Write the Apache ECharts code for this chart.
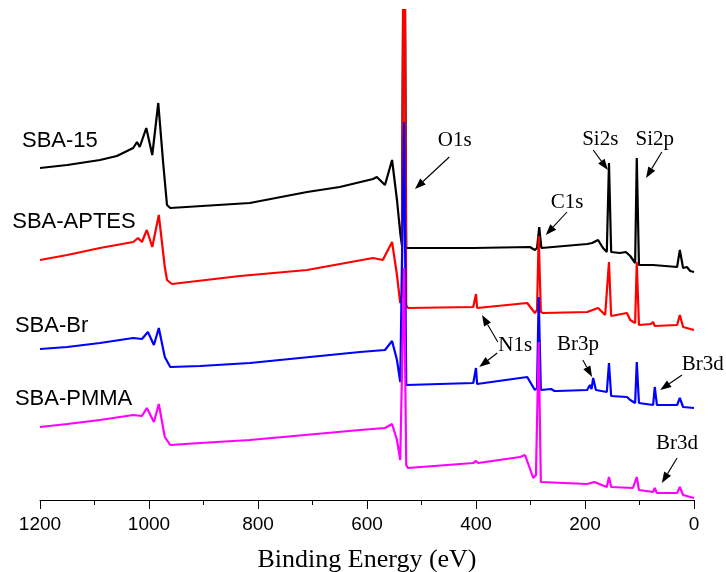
<!DOCTYPE html>
<html>
<head>
<meta charset="utf-8">
<script src="https://cdn.jsdelivr.net/npm/echarts@6/dist/echarts.min.js"></script>
<style>html,body{margin:0;padding:0;background:#fff}#c{width:726px;height:572px}</style>
</head>
<body>
<div id="c"></div>
<script>
// Binding energy axis ticks (eV)
const xTicks = [0, 200, 400, 600, 800, 1000, 1200];
const xTitle = 'Binding Energy (eV)';

// Spectra: [binding energy (eV), intensity (a.u., offset-stacked)]
const sba15 = [
  [1200,332],[1150,335],[1090,340],[1059,344],[1029,352],[1022,358],[1017,353],[1005,372],[994,345],
  [983,397],[974,337],[967,295],[961,292],[815,297],[710,308],[650,313],[589,321],[582,323],[567,315],
  [554,340],[545,300],[539,267],[536,255],[532,700],[528,252],[525,251],[405,252],[301,253],[292,250],
  [288,252],[284,273],[280,252],[277,252],[196,256],[187,257],[176,260],[167,252],[160,248],[156,337],
  [152,248],[149,248],[136,247],[125,248],[117,244],[108,237],[105,342],[101,235],[99,235],[75,235],
  [31,233],[26,250],[20,232],[13,233],[7,229],[0,228]
];
const sbaAptes = [
  [1200,240],[1150,245],[1090,252],[1029,258],[1020,262],[1013,258],[1004,270],[994,253],[982,285],
  [971,233],[967,220],[958,216],[833,224],[710,230],[589,242],[571,240],[554,258],[545,225],[539,197],
  [536,205],[532,700],[528,195],[525,192],[405,193],[402,193],[400,206],[398,192],[396,192],[306,197],
  [292,187],[288,190],[285,264],[281,188],[277,187],[196,188],[176,192],[163,185],[160,185],[156,238],
  [152,184],[149,183],[123,187],[117,180],[108,177],[105,238],[101,175],[99,175],[79,176],[75,178],
  [72,174],[31,175],[26,185],[20,173],[0,170]
];
const sbaBr = [
  [1200,151],[1150,153],[1090,157],[1029,162],[1013,161],[1002,168],[991,155],[982,172],[971,143],
  [961,133],[906,134],[815,137],[613,148],[567,150],[554,159],[545,140],[539,118],[536,120],[532,378],
  [528,115],[525,115],[405,117],[402,117],[400,132],[398,116],[396,116],[306,123],[292,110],[288,112],
  [285,203],[281,110],[279,110],[262,111],[259,113],[256,109],[251,109],[196,110],[191,115],[188,111],
  [185,122],[180,110],[160,108],[156,137],[152,104],[149,103],[123,103],[117,100],[108,97],[105,138],
  [101,97],[99,97],[75,95],[72,113],[68,95],[31,95],[26,102],[20,93],[0,92]
];
const sbaPmma = [
  [1200,73],[1150,76],[1090,80],[1029,85],[1013,84],[1004,92],[991,78],[982,96],[971,63],[961,55],
  [906,57],[815,60],[613,70],[567,72],[554,76],[545,60],[539,40],[536,42],[532,232],[528,35],[525,32],
  [405,37],[400,39],[396,37],[319,43],[310,45],[295,22],[290,25],[285,158],[281,18],[279,17],[196,16],
  [183,18],[160,13],[156,23],[152,13],[150,13],[112,12],[105,23],[101,10],[99,10],[75,8],[72,12],[68,7],
  [31,7],[26,13],[20,5],[0,2]
];

const sampleNames = ['SBA-15', 'SBA-APTES', 'SBA-Br', 'SBA-PMMA'];
const sampleColors = ['#000000', '#ff0000', '#0000ff', '#ff00ff'];
const sampleLabelAt = [[1233,359],[1251,278],[1246,174],[1246,101]];

// Peak annotations: label anchor and arrow [from, to] in data coordinates
const peakLabels = [
  ['O1s', [439,360]], ['C1s', [233,298]], ['Si2s', [172,361]], ['Si2p', [72,361]],
  ['N1s', [328,155]], ['Br3p', [213,156]], ['Br3d', [-16,136]], ['Br3d', [31,57]]
];
const peakArrows = [
  [[449,343],[512,311]], [[233,288],[272,265]], [[185,350],[158,330]], [[59,348],[88,322]],
  [[360,158],[389,185]], [[361,147],[394,133]], [[204,140],[187,123]], [[22,125],[62,110]],
  [[31,42],[59,17]]
];

const chart = echarts.init(document.getElementById('c'), null, {renderer: 'canvas'});
const spectra = [sba15, sbaAptes, sbaBr, sbaPmma];

const series = spectra.map((d, i) => ({
  name: sampleNames[i],
  type: 'line',
  data: d,
  showSymbol: false,
  symbol: 'none',
  clip: true,
  lineStyle: {color: sampleColors[i], width: 2.2},
  itemStyle: {color: sampleColors[i]},
  z: 2 + i
}));

chart.setOption({
  animation: false,
  backgroundColor: '#fff',
  grid: {left: 40, right: 32, top: 10, bottom: 72, containLabel: false, outerBoundsMode: 'none'},
  xAxis: {
    type: 'value',
    inverse: true,
    min: xTicks[0],
    max: xTicks[xTicks.length - 1],
    interval: xTicks[1] - xTicks[0],
    name: xTitle,
    nameLocation: 'middle',
    nameGap: 47,
    nameTextStyle: {fontFamily: 'Liberation Serif, Times New Roman, serif', fontSize: 26, color: '#000'},
    axisLine: {show: true, lineStyle: {color: '#000', width: 1}},
    axisTick: {show: true, length: 9, lineStyle: {color: '#000', width: 1}},
    minorTick: {show: true, splitNumber: 2, length: 5, lineStyle: {color: '#000', width: 1}},
    splitLine: {show: false},
    axisLabel: {fontFamily: 'Liberation Sans, Arial, sans-serif', fontSize: 19, color: '#000', margin: 15,
      formatter: v => String(v)}
  },
  yAxis: {type: 'value', min: 0, max: 490, show: false},
  series: series
});

const graphics = [];
sampleNames.forEach((n, i) => {
  const p = chart.convertToPixel({gridIndex: 0}, sampleLabelAt[i]);
  graphics.push({type: 'text', x: p[0], y: p[1], z: 20,
    style: {text: n, fill: '#000', fontSize: 22, fontFamily: 'Liberation Sans, Arial, sans-serif', align: 'left', verticalAlign: 'middle'}});
});
peakLabels.forEach(l => {
  const p = chart.convertToPixel({gridIndex: 0}, l[1]);
  graphics.push({type: 'text', x: p[0], y: p[1], z: 20,
    style: {text: l[0], fill: '#000', fontSize: 21, fontFamily: 'Liberation Serif, Times New Roman, serif', align: 'center', verticalAlign: 'middle'}});
});
const headLen = 11, headHalf = 4;
peakArrows.forEach(a => {
  const p1 = chart.convertToPixel({gridIndex: 0}, a[0]);
  const p2 = chart.convertToPixel({gridIndex: 0}, a[1]);
  const dx = p2[0] - p1[0], dy = p2[1] - p1[1];
  const L = Math.hypot(dx, dy), ux = dx / L, uy = dy / L;
  const bx = p2[0] - ux * headLen, by = p2[1] - uy * headLen;
  graphics.push({type: 'line', z: 20, shape: {x1: p1[0], y1: p1[1], x2: bx, y2: by},
    style: {stroke: '#000', lineWidth: 1.1}});
  graphics.push({type: 'polygon', z: 20,
    shape: {points: [[p2[0], p2[1]], [bx - uy * headHalf, by + ux * headHalf], [bx + uy * headHalf, by - ux * headHalf]]},
    style: {fill: '#000'}});
});
chart.setOption({graphic: graphics});
</script>
</body>
</html>
